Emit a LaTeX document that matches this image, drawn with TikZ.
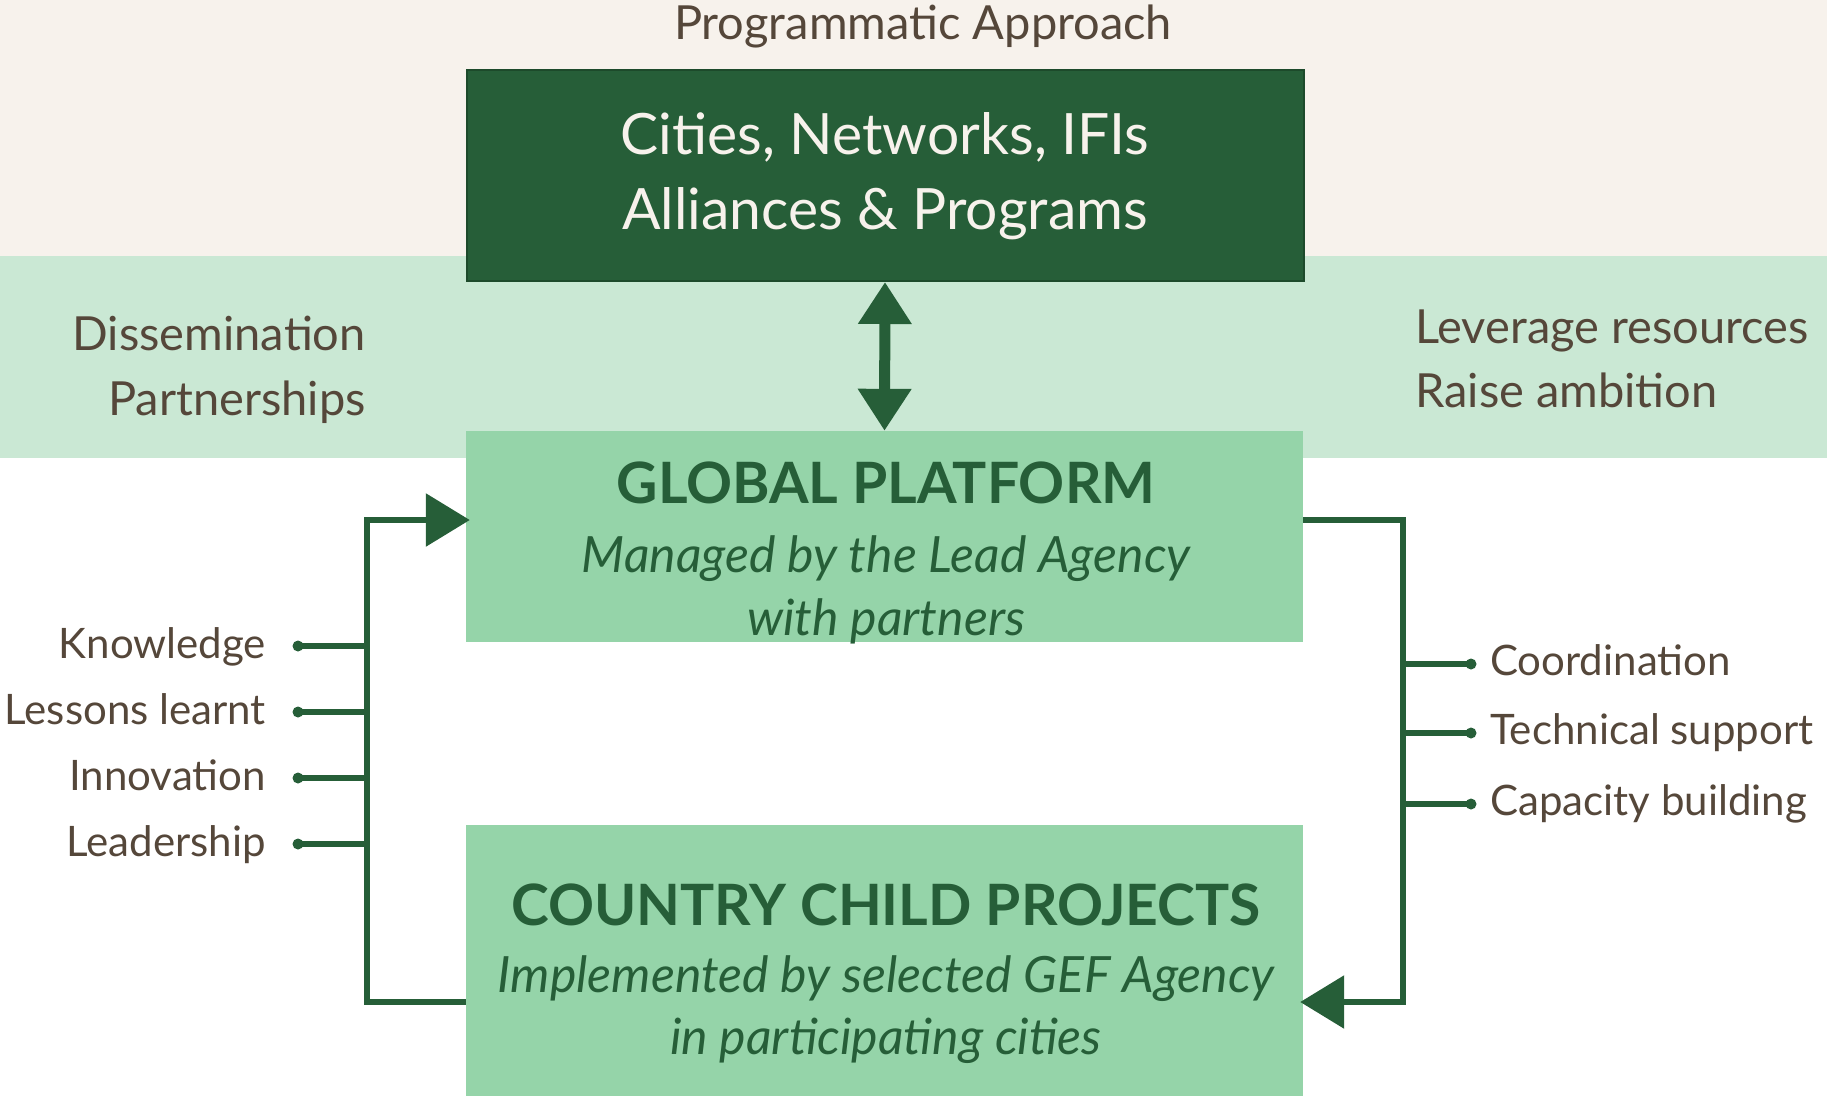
\documentclass[tikz,border=0pt]{standalone}
\usepackage{fontspec}
\setmainfont{Lato}
\usetikzlibrary{positioning,arrows.meta}
\definecolor{bgtop}{HTML}{F7F2EC}
\definecolor{bgband}{HTML}{CAE8D4}
\definecolor{boxlight}{HTML}{95D4A9}
\definecolor{boxdark}{HTML}{265E38}
\definecolor{boxedge}{HTML}{1D4A2B}
\definecolor{txtbrown}{HTML}{55473A}

\begin{document}
\begin{tikzpicture}[x=1pt,y=-1pt,
  box/.style={fill=boxlight,minimum width=837pt,inner sep=0pt},
  head/.style={text=boxdark,font=\fontsize{57}{60}\selectfont\bfseries,inner sep=0pt,anchor=base},
  sub/.style={text=boxdark,font=\fontsize{50}{60}\selectfont\itshape,inner sep=0pt,anchor=base},
  big/.style={text=bgtop,font=\fontsize{57}{60}\selectfont,inner sep=0pt,anchor=base},
  lbl/.style={text=txtbrown,font=\fontsize{42}{46}\selectfont,inner sep=0pt},
  band/.style={text=txtbrown,font=\fontsize{47}{50}\selectfont,inner sep=0pt},
  link/.style={draw=boxdark,line width=6pt},
  tip/.style={-{Triangle[length=44pt,width=52pt]}},
  dot/.style={circle,fill=boxdark,inner sep=0pt,minimum size=11pt}]
\useasboundingbox (0,0) rectangle (1827,1096);
% background bands
\fill[bgtop] (0,0) rectangle (1827,256);
\fill[bgband] (0,256) rectangle (1827,458);

\node[band,anchor=base] (prog) at (923,39) {Programmatic Approach};

\node[box,fill=boxdark,draw=boxedge,line width=2pt,minimum height=211pt] (cities) at (885,175.5) {};
\node[big] (cities1) at (885,154) {Cities, Networks, IFIs};
\node[big] (cities2) at (885,229) {Alliances \& Programs};

\node[box,minimum height=211pt] (glob) at (884.5,536.5) {};
\node[head] (glob1) at (886,503) {GLOBAL PLATFORM};
\node[sub] (glob2) at (886,572) {Managed by the Lead Agency};
\node[sub] (glob3) at (886,635) {with partners};

\node[box,minimum height=271pt] (country) at (884.5,960.5) {};
\node[head] (country1) at (886,925) {COUNTRY CHILD PROJECTS};
\node[sub] (country2) at (886,992) {Implemented by selected GEF Agency};
\node[sub] (country3) at (886,1054) {in participating cities};

\node[band,anchor=base east] (diss) at (366,350) {Dissemination};
\node[band,anchor=base east] (part) at (366,415) {Partnerships};
\node[band,anchor=base west] (lev) at (1415,343) {Leverage resources};
\node[band,anchor=base west] (raise) at (1415,407) {Raise ambition};

\draw[link,line width=11pt,{Triangle[length=42pt,width=51pt]}-{Triangle[length=42pt,width=51pt]}]
  (cities.south) -- (glob.north);

% feedback loops
\coordinate (lt) at (367,520);
\coordinate (lb) at (367,1002);
\coordinate (rt) at (1403,520);
\coordinate (rb) at (1403,1002);
\draw[link,tip] (country.west |- lb) -- (lb) -- (lt) -- ([xshift=4pt]glob.west |- lt);
\draw[link,tip] (glob.east |- rt) -- (rt) -- (rb) -- ([xshift=-3pt]country.east |- rb);

\foreach \y/\t in {646/Knowledge,712/Lessons learnt,778/Innovation,844/Leadership}{
  \node[dot] (ld\y) at (298,\y) {};
  \draw[link] (ld\y.center) -- (ld\y -| lb);
  \node[lbl,anchor=base east] (lt\y) at (266,\y+12) {\t};
}
\foreach \y/\t in {664/Coordination,733/Technical support,804/Capacity building}{
  \node[dot] (rd\y) at (1471,\y) {};
  \draw[link] (rd\y.center) -- (rd\y -| rb);
  \node[lbl,anchor=base west] (rt\y) at (1490,\y+11) {\t};
}
\end{tikzpicture}
\end{document}
